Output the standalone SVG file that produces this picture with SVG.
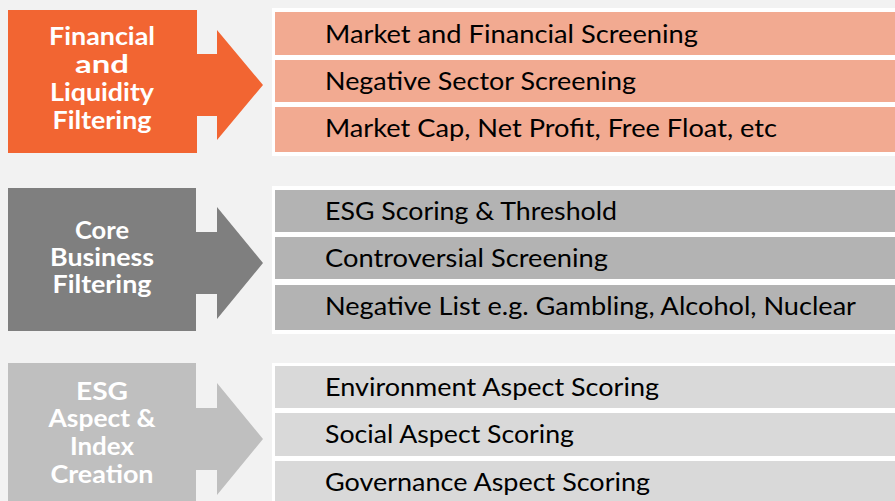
<svg xmlns="http://www.w3.org/2000/svg" width="895" height="501" viewBox="0 0 895 501">
<style>
.bg{fill:#f2f2f2}
.panel{fill:#ffffff}
.o{fill:#f26532}
.orow{fill:#f2aa91}
.d{fill:#7f7f7f}
.drow{fill:#b3b3b3}
.l{fill:#bfbfbf}
.lrow{fill:#d9d9d9}
.h{font-family:Lato,"Open Sans","Liberation Sans",sans-serif;font-weight:bold;font-size:24px;fill:#ffffff;text-anchor:middle}
.t{font-family:Lato,"Open Sans","Liberation Sans",sans-serif;font-size:25px;fill:#000000}
</style>
<rect class="bg" x="0" y="0" width="895" height="501"/>
<g id="connectors"></g>
<g id="stage1">
<path class="o" d="M8,10H197V54H217V30L263,85L217,140V116H197V153H8Z"/>
<text class="h" x="102" y="45" textLength="106" lengthAdjust="spacingAndGlyphs">Financial</text>
<text class="h" x="102" y="73" textLength="54" lengthAdjust="spacingAndGlyphs">and</text>
<text class="h" x="102" y="101" textLength="104" lengthAdjust="spacingAndGlyphs">Liquidity</text>
<text class="h" x="102" y="129" textLength="99" lengthAdjust="spacingAndGlyphs">Filtering</text>
</g>
<g id="list1">
<rect class="panel" x="272" y="8" width="630" height="148"/>
<rect class="orow" x="275" y="12" width="625" height="43"/>
<rect class="orow" x="275" y="60" width="625" height="42"/>
<rect class="orow" x="275" y="107" width="625" height="45"/>
<text class="t" x="325" y="43" textLength="373" lengthAdjust="spacingAndGlyphs">Market and Financial Screening</text>
<text class="t" x="325" y="90" textLength="311" lengthAdjust="spacingAndGlyphs">Negative Sector Screening</text>
<text class="t" x="325" y="137" textLength="452" lengthAdjust="spacingAndGlyphs">Market Cap, Net Profit, Free Float, etc</text>
</g>
<g id="stage2">
<path class="d" d="M8,188H196V232H217V207L263,263L217,319V294H196V331H8Z"/>
<text class="h" x="102" y="239" textLength="54" lengthAdjust="spacingAndGlyphs">Core</text>
<text class="h" x="102" y="266" textLength="104" lengthAdjust="spacingAndGlyphs">Business</text>
<text class="h" x="102" y="293" textLength="99" lengthAdjust="spacingAndGlyphs">Filtering</text>
</g>
<g id="list2">
<rect class="panel" x="272" y="186" width="630" height="148"/>
<rect class="drow" x="275" y="190" width="625" height="42"/>
<rect class="drow" x="275" y="237" width="625" height="42"/>
<rect class="drow" x="275" y="285" width="625" height="45"/>
<text class="t" x="325" y="220" textLength="292" lengthAdjust="spacingAndGlyphs">ESG Scoring &amp; Threshold</text>
<text class="t" x="325" y="267" textLength="283" lengthAdjust="spacingAndGlyphs">Controversial Screening</text>
<text class="t" x="325" y="315" textLength="531" lengthAdjust="spacingAndGlyphs">Negative List e.g. Gambling, Alcohol, Nuclear</text>
</g>
<g id="stage3">
<path class="l" d="M8,363H196V408H217V383L263,439L217,495V470H196V505H8Z"/>
<text class="h" x="102" y="400" textLength="52" lengthAdjust="spacingAndGlyphs">ESG</text>
<text class="h" x="102" y="427" textLength="107" lengthAdjust="spacingAndGlyphs">Aspect &amp;</text>
<text class="h" x="102" y="455" textLength="64" lengthAdjust="spacingAndGlyphs">Index</text>
<text class="h" x="102" y="483" textLength="103" lengthAdjust="spacingAndGlyphs">Creation</text>
</g>
<g id="list3">
<rect class="panel" x="272" y="363" width="630" height="145"/>
<rect class="lrow" x="275" y="366" width="625" height="42"/>
<rect class="lrow" x="275" y="413" width="625" height="43"/>
<rect class="lrow" x="275" y="461" width="625" height="45"/>
<text class="t" x="325" y="396" textLength="334" lengthAdjust="spacingAndGlyphs">Environment Aspect Scoring</text>
<text class="t" x="325" y="443" textLength="249" lengthAdjust="spacingAndGlyphs">Social Aspect Scoring</text>
<text class="t" x="325" y="491" textLength="325" lengthAdjust="spacingAndGlyphs">Governance Aspect Scoring</text>
</g>
</svg>
